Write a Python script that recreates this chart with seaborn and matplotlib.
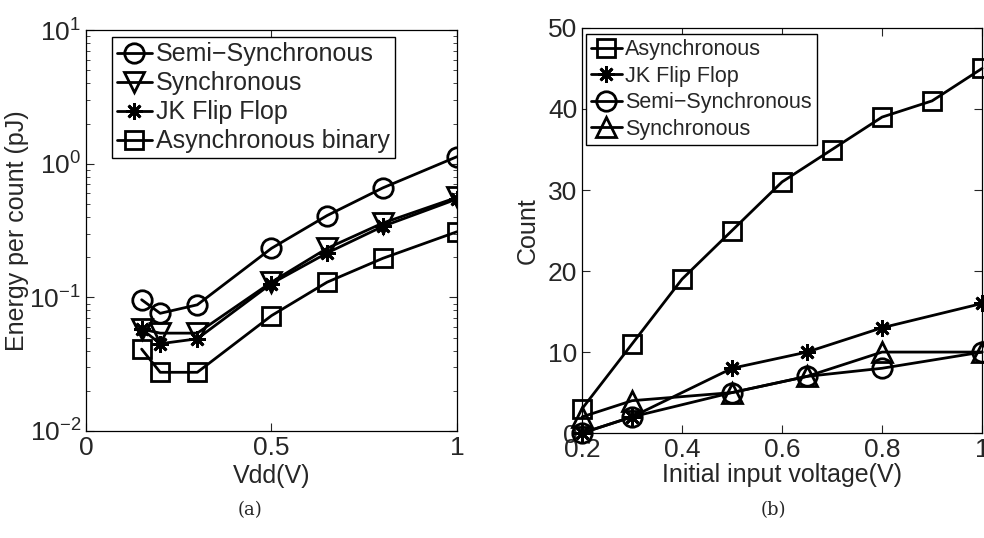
import numpy as np
import pandas as pd
import matplotlib
matplotlib.use('Agg')
import matplotlib.pyplot as plt
import seaborn as sns

# Painel (a): energia por contagem vs Vdd
vdd = [0.15, 0.2, 0.3, 0.5, 0.65, 0.8, 1.0]
e_semi = [0.096, 0.076, 0.088, 0.233, 0.41, 0.66, 1.13]
e_sync = [0.058, 0.054, 0.054, 0.13, 0.233, 0.36, 0.56]
e_jk = [0.058, 0.045, 0.049, 0.127, 0.215, 0.34, 0.545]
e_async = [0.041, 0.0275, 0.0275, 0.073, 0.13, 0.196, 0.31]

# Painel (b): contagem vs tensão inicial
v_async = [0.2, 0.3, 0.4, 0.5, 0.6, 0.7, 0.8, 0.9, 1.0]
c_async = [3, 11, 19, 25, 31, 35, 39, 41, 45]
v_other = [0.2, 0.3, 0.5, 0.65, 0.8, 1.0]
c_jk = [0, 2, 8, 10, 13, 16]
c_semi = [0, 2, 5, 7, 8, 10]
c_sync = [2, 4, 5, 7, 10, 10]

sns.set_style('ticks')
plt.rcParams['font.family'] = ['Liberation Sans', 'DejaVu Sans']
plt.rcParams['mathtext.fontset'] = 'custom'
plt.rcParams['mathtext.rm'] = 'Liberation Sans'
plt.rcParams['xtick.direction'] = 'in'
plt.rcParams['ytick.direction'] = 'in'
plt.rcParams['xtick.top'] = True
plt.rcParams['ytick.right'] = True

asterisk = (8, 2, 0)
estilo = dict(color='black', linewidth=2.0, markeredgewidth=2.0,
              markerfacecolor='none', markeredgecolor='black')

fig = plt.figure(figsize=(9.84, 5.38), dpi=100)
ax1 = fig.add_axes([0.0874, 0.1989, 0.377, 0.745])
ax2 = fig.add_axes([0.5915, 0.195, 0.4065, 0.753])

series_a = [('Semi\u2212Synchronous', e_semi, 'o', 14),
            ('Synchronous', e_sync, 'v', 14),
            ('JK Flip Flop', e_jk, asterisk, 12),
            ('Asynchronous binary', e_async, 's', 13)]
for nome, vals, mk, ms in series_a:
    df = pd.DataFrame({'x': vdd, 'y': vals})
    sns.lineplot(data=df, x='x', y='y', ax=ax1, marker=mk, markersize=ms,
                 label=nome, **estilo)

ax1.set_yscale('log')
ax1.set_xlim(0, 1)
ax1.set_ylim(1e-2, 1e1)
ax1.set_xticks([0, 0.5, 1])
ax1.set_xticklabels(['0', '0.5', '1'])
ax1.set_xlabel('Vdd(V)', fontsize=18, labelpad=3)
ax1.set_ylabel('Energy per count (pJ)', fontsize=18, labelpad=0)
ax1.tick_params(labelsize=19, length=6, width=0.8, which='major')
ax1.tick_params(length=3, width=0.6, which='minor')
ax1.legend(loc='upper left', bbox_to_anchor=(0.07, 0.982), fontsize=18,
           frameon=True, fancybox=False, edgecolor='black', framealpha=1,
           handlelength=1.4, handletextpad=0.15, borderpad=0.2,
           labelspacing=0.2, borderaxespad=0)

series_b = [('Asynchronous', v_async, c_async, 's', 13),
            ('JK Flip Flop', v_other, c_jk, asterisk, 12),
            ('Semi\u2212Synchronous', v_other, c_semi, 'o', 14),
            ('Synchronous', v_other, c_sync, '^', 14)]
for nome, xs, vals, mk, ms in series_b:
    df = pd.DataFrame({'x': xs, 'y': vals})
    sns.lineplot(data=df, x='x', y='y', ax=ax2, marker=mk, markersize=ms,
                 label=nome, clip_on=False, **estilo)

ax2.set_xlim(0.2, 1)
ax2.set_ylim(0, 50)
ax2.set_xticks([0.2, 0.4, 0.6, 0.8, 1.0])
ax2.set_xticklabels(['0.2', '0.4', '0.6', '0.8', '1'])
ax2.set_yticks([0, 10, 20, 30, 40, 50])
ax2.set_xlabel('Initial input voltage(V)', fontsize=18, labelpad=1)
ax2.set_ylabel('Count', fontsize=18, labelpad=6)
ax2.tick_params(labelsize=19, length=6, width=0.8)
ax2.legend(loc='upper left', bbox_to_anchor=(0.01, 0.985), fontsize=15.5,
           frameon=True, fancybox=False, edgecolor='black', framealpha=1,
           handlelength=1.4, handletextpad=0.15, borderpad=0.25,
           labelspacing=0.25, borderaxespad=0)

for ax in (ax1, ax2):
    for s in ax.spines.values():
        s.set_linewidth(0.9)
        s.set_color('black')

fig.text(0.254, 0.052, '(a)', ha='center', va='center', fontsize=13,
         family=['DejaVu Serif'])
fig.text(0.786, 0.052, '(b)', ha='center', va='center', fontsize=13,
         family=['DejaVu Serif'])

fig.savefig('out.png', dpi=100)
